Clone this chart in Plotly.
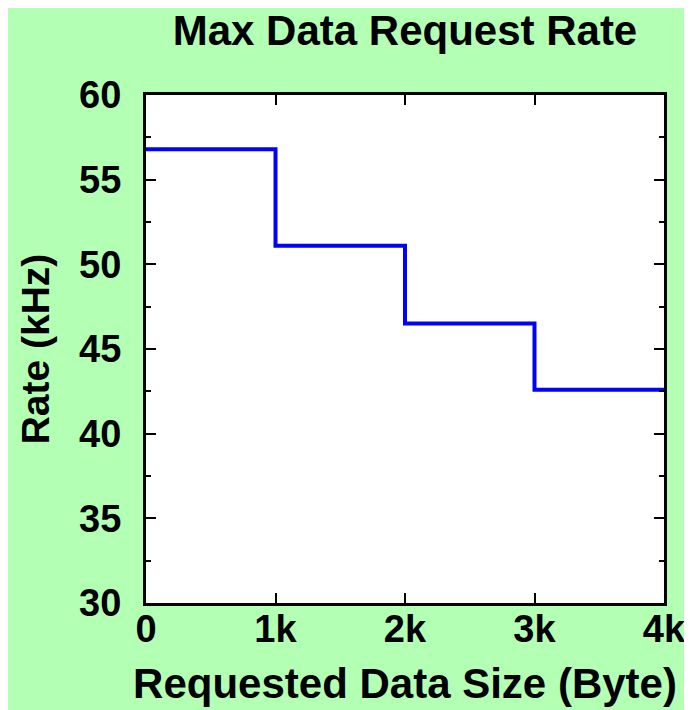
import plotly.graph_objects as go

sizes = [0, 1000, 2000, 3000, 4000]
rates = [56.8, 51.1, 46.5, 42.6, 42.6]
x_tick_vals = [0, 1000, 2000, 3000, 4000]
x_tick_text = ["0", "1k", "2k", "3k", "4k"]
y_tick_vals = [30, 35, 40, 45, 50, 55, 60]

FONT = "Liberation Sans, Arial, sans-serif"

L, T = 138, 87
PW, PH = 518, 508

fig = go.Figure()
fig.add_trace(go.Scatter(
    x=sizes, y=rates, mode="lines", line=dict(color="#0000ff", width=4, shape="hv"),
    showlegend=False, hoverinfo="x+y"))

fig.update_layout(
    width=692, height=710,
    paper_bgcolor="#b3ffb3", plot_bgcolor="white",
    margin=dict(l=L, r=692 - L - PW, t=T, b=710 - T - PH),
    font=dict(family=FONT, color="black"),
    title=dict(text="<b>Max Data Request Rate</b>", x=(L + PW / 2) / 692, xanchor="center",
               y=1 - 22 / 710, yanchor="middle", yref="container",
               font=dict(size=42, family=FONT, color="black")),
)
fig.update_xaxes(
    range=[0, 4000], tickvals=x_tick_vals, ticktext=[f"<b>{t}</b>" for t in x_tick_text],
    tickfont=dict(size=38, family=FONT), ticks="inside", ticklen=10, tickwidth=1.5, tickcolor="black",
    ticklabelstandoff=-10,
    showline=True, linewidth=3, linecolor="black", mirror="allticks", showgrid=False, zeroline=False,
    title=dict(text="<b>Requested Data Size (Byte)</b>", font=dict(size=42, family=FONT), standoff=21),
)
fig.update_yaxes(
    range=[30, 60], tickvals=y_tick_vals, ticktext=[f"<b>{v}</b>" for v in y_tick_vals],
    tickfont=dict(size=38, family=FONT), ticks="inside", ticklen=10, tickwidth=1.5, tickcolor="black",
    ticklabelstandoff=14,
    minor=dict(dtick=2.5, tick0=30, ticks="inside", ticklen=5, tickwidth=1.5, tickcolor="black", showgrid=False),
    showline=True, linewidth=3, linecolor="black", mirror="allticks", showgrid=False, zeroline=False,
    title=dict(text="<b>Rate (kHz)</b>", font=dict(size=39, family=FONT), standoff=18),
)

fig.write_html("out.html")
